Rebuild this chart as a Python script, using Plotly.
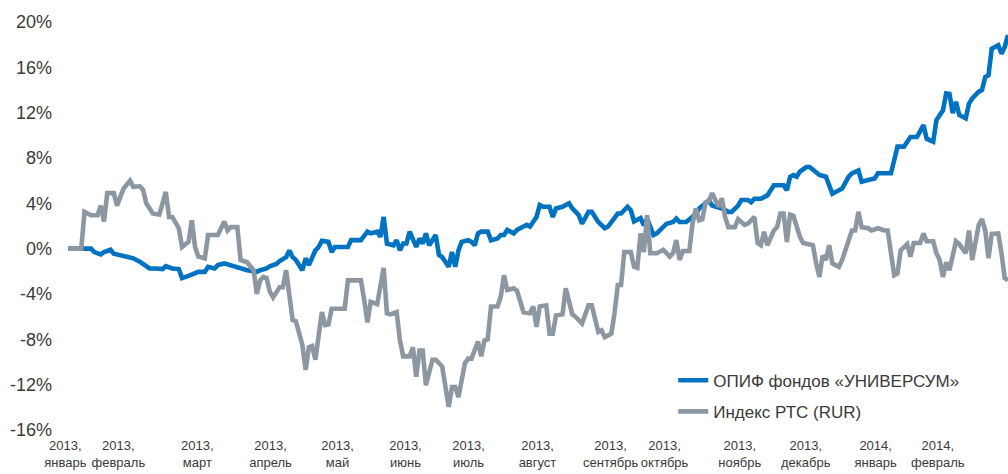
import plotly.graph_objects as go

# ---- data (trading-day index, % change) ----
fund_days = [0,5,7,8,10,11,13,14,17,18,20,22,24,25,27,29,30,32,34,35,37,38,40,42,43,45,46,48,49,51,52,54,55,58,59,61,62,64,65,67,68,69,70,72,73,74,76,77,78,80,81,82,86,87,90,92,93,95,96,97,98,100,101,102,103,104,105,107,108,109,110,111,113,114,115,117,118,119,120,121,123,124,125,126,127,129,130,132,133,134,135,137,138,140,141,142,144,145,146,148,149,150,152,154,155,157,158,160,161,163,164,165,166,167,169,170,172,173,174,176,177,178,180,181,182,184,186,187,188,190,192,193,194,196,197,198,201,203,204,206,207,209,210,211,213,215,217,218,220,221,222,223,224,225,227,228,230,231,233,234,235,237,238,240,241,243,244,246,248,249,251,253,254,255,257,259,261,263,264,266,267,269,270,271,272,273,274,275,276,277,278,280,281,282,283,284,286,287,288,289]
fund_vals = [0,0,0,-0.3,-0.5,-0.3,-0.1,-0.45,-0.65,-0.7,-0.85,-1.15,-1.6,-1.75,-1.75,-1.8,-1.55,-1.75,-1.8,-2.6,-2.4,-2.3,-2.05,-2.05,-1.6,-1.75,-1.45,-1.3,-1.4,-1.5,-1.7,-1.9,-1.9,-2.05,-1.9,-1.75,-1.55,-1.35,-1.1,-0.75,-0.15,-0.75,-1.0,-1.9,-0.85,-1.45,-0.15,0.15,0.7,0.6,-0.3,0.15,0.15,0.75,0.75,1.5,1.35,1.5,1.05,2.8,0.45,0.3,0.75,-0.15,0.45,0.45,1.5,0.15,0.9,0.45,1.35,0.3,1.2,-0.55,-0.75,-1.6,-0.3,-1.6,-0.15,0.6,0.75,0.6,0.3,1.35,1.5,1.5,0.75,0.9,1.2,1.2,1.65,1.35,1.65,1.95,2.1,1.95,2.8,3.85,3.7,3.7,2.8,3.55,3.7,4.0,3.55,2.95,2.2,3.25,3.25,2.35,2.05,1.8,1.95,2.35,3.1,3.1,3.7,3.4,2.4,2.7,2.05,2.65,1.2,1.35,1.6,2.2,2.35,2.65,2.35,2.35,2.8,3.1,3.55,4.1,4.25,3.8,3.55,3.25,3.25,3.8,4.3,4.3,4.1,4.4,4.4,4.7,5.6,5.6,5.6,5.15,6.35,6.5,6.35,6.8,7.2,7.2,6.65,6.5,6.35,5.6,4.85,5.15,5.3,6.35,6.65,6.9,5.9,6.05,6.2,6.65,6.65,6.65,7.8,9.0,9.0,9.85,9.85,10.9,9.7,9.45,11.35,12.2,13.7,13.65,11.95,12.95,11.8,11.65,11.5,12.8,13.25,13.85,14.0,15.15,15.3,17.65,17.95,17.2,17.8,18.85]

rts_days = [0,4,5,7,9,10,11,12,14,15,17,19,20,22,23,24,26,28,30,31,32,34,35,37,38,39,40,42,43,46,48,49,50,52,53,55,57,58,59,60,61,62,63,65,66,67,69,70,72,73,74,75,76,78,79,80,81,85,86,90,91,92,93,95,97,98,99,101,102,103,105,106,107,108,109,110,112,113,115,117,118,119,120,121,122,123,124,126,127,128,129,130,132,133,134,135,137,138,140,142,143,144,145,147,148,149,150,152,153,155,156,158,160,161,163,164,165,167,168,169,170,171,173,174,175,176,177,178,179,181,183,185,186,187,188,189,191,192,193,194,195,196,197,198,200,201,202,203,205,206,208,209,211,212,213,214,215,217,218,219,220,221,222,223,225,226,228,229,230,231,232,233,234,235,237,238,240,241,242,243,244,246,247,249,251,252,254,255,256,258,259,260,262,263,264,266,267,268,269,270,271,273,274,276,277,278,280,281,282,283,284,286,287,288,289]
rts_vals = [0,0,3.25,2.95,2.95,3.8,2.4,4.9,4.9,3.8,5.3,6.0,5.45,5.5,5.2,4.0,3.1,3.0,5.0,2.8,2.8,1.8,0.15,0.6,2.5,0.15,-0.7,-0.85,1.2,1.2,2.4,1.6,1.9,1.9,-1.0,-1.2,-1.9,-4.0,-2.8,-2.5,-2.6,-3.8,-4.3,-3.4,-3.4,-1.9,-6.3,-6.4,-8.5,-10.7,-8.7,-8.6,-9.8,-5.6,-6.75,-6.7,-5.3,-5.3,-2.8,-2.8,-4.5,-6.5,-4.7,-4.9,-1.7,-5.7,-5.8,-5.6,-8.1,-9.5,-9.5,-8.7,-11.3,-9.0,-9.0,-12.05,-9.8,-9.8,-10.4,-13.95,-12.2,-12.2,-13.1,-11.3,-10.1,-9.7,-9.7,-8.2,-9.5,-8.1,-8.0,-5.1,-5.1,-4.25,-2.35,-3.65,-3.5,-3.7,-5.6,-5.7,-5.1,-6.9,-5.1,-5.0,-7.5,-7.5,-5.9,-5.8,-3.5,-5.8,-6.0,-6.6,-5.0,-5.0,-7.35,-7.2,-7.8,-7.5,-5.7,-3.2,-3.2,-0.3,-0.3,-1.6,-1.7,1.35,-0.3,2.95,-0.4,-0.4,-0.1,-0.7,-0.4,0.75,-1.0,-0.2,-0.2,2.25,3.55,2.5,2.6,4.1,4.2,4.9,3.7,4.45,2.8,1.9,1.9,2.6,2.1,2.2,2.8,0.5,0.3,1.5,0.3,1.6,1.9,3.1,3.1,0.6,3.0,2.9,1.05,0.5,0.4,0.3,-1.3,-2.5,-0.6,-1.0,0.3,-1.3,-1.6,-1.0,0.75,1.6,1.6,3.25,1.9,1.8,1.6,1.8,1.6,1.6,-2.35,-2.2,-0.15,0.4,-0.7,0.5,0.5,1.35,0.65,0.65,-0.4,-1.0,-2.5,-1.2,-1.9,0.65,0.4,-0.4,1.6,-1.0,2.1,2.6,1.6,-0.85,1.3,1.35,-0.4,-2.6,-2.8]

month_tick_days = [-0.9, 15.4, 39.7, 62.2, 82.8, 103.7, 123.1, 144.3, 166.8, 183.4, 206.5, 226.8, 248.3, 267.4]
month_tick_labels = ["2013,<br>январь", "2013,<br>февраль", "2013,<br>март", "2013,<br>апрель",
                     "2013,<br>май", "2013,<br>июнь", "2013,<br>июль", "2013,<br>август",
                     "2013,<br>сентябрь", "2013,<br>октябрь", "2013,<br>ноябрь", "2013,<br>декабрь",
                     "2014,<br>январь", "2014,<br>февраль"]
y_ticks = [-16, -12, -8, -4, 0, 4, 8, 12, 16, 20]
y_tick_labels = [f"{v}%" for v in y_ticks]

series_names = ["ОПИФ фондов «УНИВЕРСУМ»", "Индекс РТС (RUR)"]

BLUE = "#0072C2"
GREY = "#8C97A1"
TXT = "#3a3a3a"
FONT = "Liberation Sans, Arial, sans-serif"

fig = go.Figure()
fig.add_trace(go.Scatter(x=fund_days, y=fund_vals, mode="lines", name=series_names[0],
                         line=dict(color=BLUE, width=4.6), legendgroup="a"))
fig.add_trace(go.Scatter(x=rts_days, y=rts_vals, mode="lines", name=series_names[1],
                         line=dict(color=GREY, width=4.6), legendgroup="b"))

fig.update_layout(
    width=1008, height=474,
    margin=dict(l=65, r=0, t=22, b=44),
    paper_bgcolor="white", plot_bgcolor="white",
    font=dict(family=FONT, color=TXT),
    showlegend=True,
    legend=dict(x=0.645, y=0.165, xanchor="left", yanchor="top",
                font=dict(size=17, color=TXT, family=FONT),
                bgcolor="rgba(0,0,0,0)", tracegroupgap=6, itemwidth=30),
    xaxis=dict(range=[-1, 289], showgrid=False, zeroline=False, showline=False,
               ticks="", tickmode="array", tickvals=month_tick_days,
               ticktext=month_tick_labels, tickangle=0, ticklabelstandoff=6,
               tickfont=dict(size=13, color=TXT, family=FONT)),
    yaxis=dict(range=[-16, 20], showgrid=False, zeroline=False, showline=False,
               ticks="", tickmode="array", tickvals=y_ticks, ticktext=y_tick_labels,
               tickfont=dict(size=18, color=TXT, family=FONT), ticklabelstandoff=12),
)

fig.write_html(
    "out.html",
    config={"displayModeBar": False},
    post_script="document.body.style.margin='0';document.body.style.overflow='hidden';",
)
